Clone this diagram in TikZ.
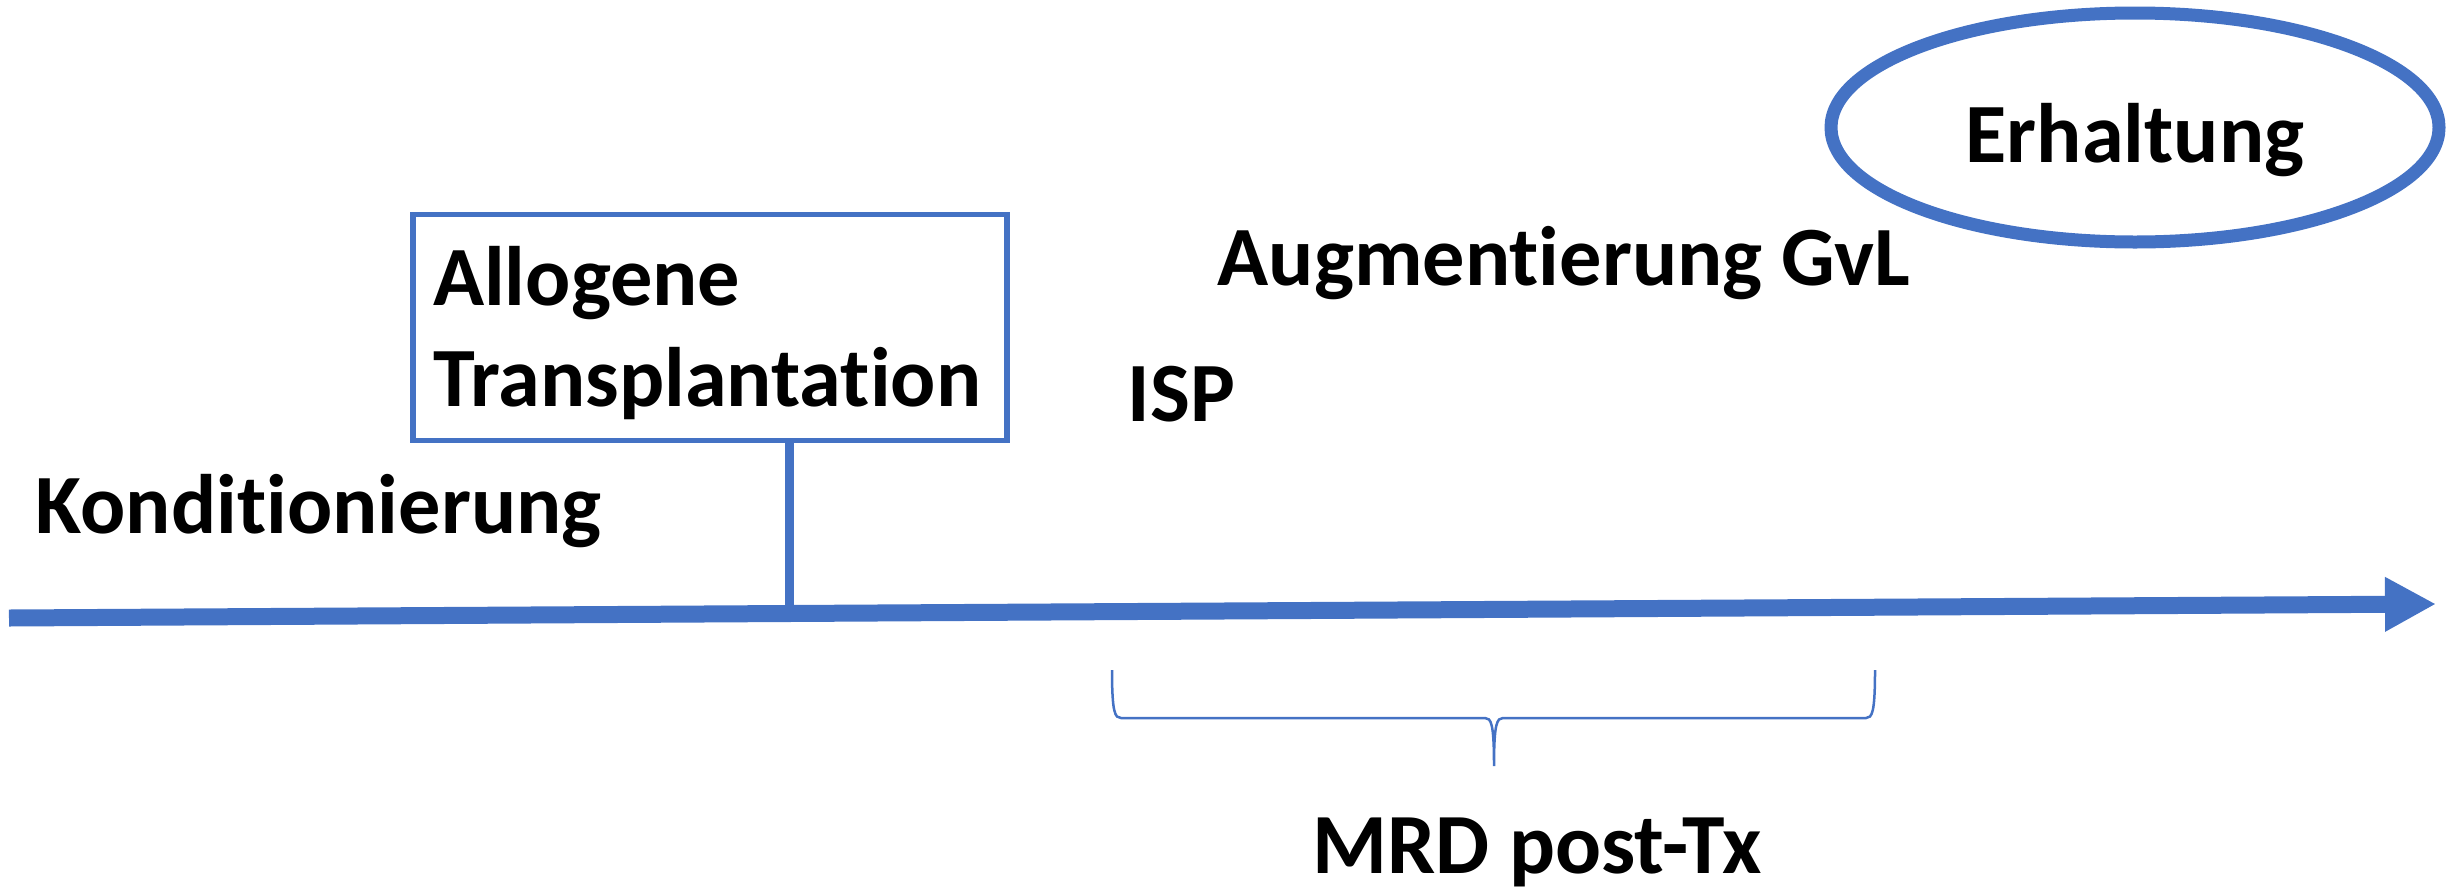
\documentclass[tikz,border=0pt]{standalone}
\usepackage{fontspec}
\setmainfont{Carlito}[Ligatures={NoCommon,NoContextual}]
\usepackage{tikz}
\usetikzlibrary{arrows.meta,shapes.geometric}
\definecolor{clLine}{HTML}{4472C4}
\tikzset{
  lbl/.style={inner sep=0pt, anchor=base west, text=black,
              font=\bfseries\fontsize{24pt}{29pt}\selectfont},
  eventbox/.style={lbl, anchor=north west, draw=clLine, line width=0.55mm,
                   outer sep=0pt, align=left, inner xsep=2mm, inner ysep=0pt},
  phaseoval/.style={lbl, anchor=center, ellipse, draw=clLine, line width=1.3mm,
                    outer sep=0pt},
  timeline/.style={-{Triangle[length=5.1mm, width=5.1mm]}, line width=1.7mm, draw=clLine},
  stem/.style={line width=0.9mm, draw=clLine},
  bracket/.style={line width=0.25mm, draw=clLine},
}

\begin{document}
\begin{tikzpicture}
  \useasboundingbox (0,0) rectangle (24.51,8.88);
  % time axis
  \coordinate (t-start) at (0.09,2.70);
  \coordinate (t-end) at (24.36,2.84);
  \coordinate (t-tx) at (7.89,2.745);
  \draw[timeline] (t-start) -- (t-end);
  % transplant event
  \node[eventbox, text width=5.54cm, text height=0.905cm, text depth=1.355cm]
    (tx) at (4.13,6.735) {Allogene\\Transplantation};
  \draw[stem] (tx.south -| t-tx) -- (t-tx);
  % phases
  \node[lbl] (kond) at (0.35,3.55) {Konditionierung};
  \node[lbl] (isp) at (11.27,4.67) {ISP};
  \node[lbl] (gvl) at (12.17,6.03) {Augmentierung GvL};
  \node[phaseoval, minimum width=6.08cm, minimum height=2.29cm,
        text height=0.69cm, text depth=0cm] (erh) at (21.35,7.605) {Erhaltung};
  % MRD brace
  \draw[bracket] (11.12,2.18) .. controls (11.12,1.75) and (11.15,1.70) .. (11.21,1.70)
    -- (14.85,1.70) .. controls (14.91,1.70) and (14.94,1.65) .. (14.94,1.22)
    .. controls (14.94,1.65) and (14.97,1.70) .. (15.03,1.70)
    -- (18.66,1.70) .. controls (18.72,1.70) and (18.75,1.75) .. (18.75,2.18);
  \node[lbl, font=\bfseries\fontsize{24.4pt}{29pt}\selectfont] (mrd) at (13.12,0.15) {MRD post-Tx};
\end{tikzpicture}
\end{document}
